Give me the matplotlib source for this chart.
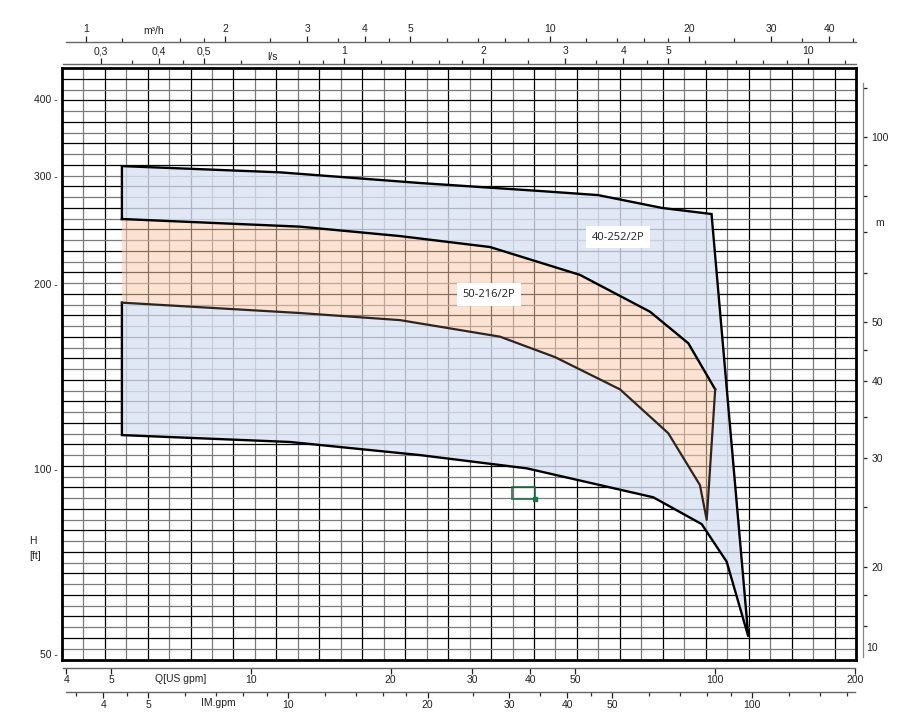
import matplotlib
matplotlib.use("Agg")
import matplotlib.pyplot as plt
from matplotlib.patches import Rectangle, PathPatch
from matplotlib.path import Path
from matplotlib.ticker import NullFormatter

# ---------------- data (Q in US gpm, H in ft) ----------------
blue_top_q = [5.27, 11.55, 23.13, 41.96, 55.96, 76.88, 98.3]
blue_top_h = [311.0, 303.8, 291.9, 283.3, 279.0, 265.9, 259.9]
blue_bot_q = [5.27, 12.14, 23.13, 39.28, 73.6, 93.6, 105.97, 118.0]
blue_bot_h = [113.6, 110.7, 105.4, 100.3, 90.0, 81.4, 70.7, 53.4]

orange_top_q = [5.27, 12.75, 20.95, 32.74, 51.19, 72.42, 87.6, 100.1]
orange_top_h = [255.1, 247.9, 239.3, 229.7, 206.9, 180.3, 160.2, 134.8]
orange_bot_q = [5.27, 12.75, 20.95, 34.41, 45.21, 62.41, 79.3, 92.8, 95.97]
orange_bot_h = [186.5, 179.4, 174.7, 164.2, 152.1, 134.8, 114.4, 94.2, 82.7]

labels = ["40-252/2P", "50-216/2P"]
label_q = [61.7, 32.6]
label_h = [238.2, 192.3]

h_ticks = [50, 100, 200, 300, 400]
q_ticks = [4, 5, 10, 20, 30, 40, 50, 100, 200]
im_ticks = [4, 5, 10, 20, 30, 40, 50, 100]
im_minor = [3.5, 4.5, 6, 7, 8, 9, 12, 14, 16, 18, 25, 35, 45, 60, 70, 80, 90, 120, 140, 160]
m3h_ticks = [1, 2, 3, 4, 5, 10, 20, 30, 40]
m3h_minor = [1.2, 1.6, 1.8, 2.5, 3.5, 4.5, 6, 7, 8, 9, 12, 14, 16, 18, 25, 35, 45]
ls_ticks = [0.3, 0.4, 0.5, 1, 2, 3, 4, 5, 10]
ls_labels = ["0,3", "0,4", "0,5", "1", "2", "3", "4", "5", "10"]
ls_minor = [0.35, 0.45, 0.6, 0.8, 0.9, 1.2, 1.4, 1.6, 1.8, 2.5, 3.5, 4.5, 6, 7, 8, 9, 12]
m_ticks = [20, 30, 40, 50, 100]
m_minor = [16, 18, 25, 35, 45, 60, 70, 80, 90, 120]

# unit conversions (US gpm per unit)
GPM_PER_M3H = 4.40287
GPM_PER_LS = 15.8503
GPM_PER_IMGPM = 1.20095

# ---------------- layout calibration ----------------
W, H = 907, 724
FONT = "Liberation Sans"
FS = 7.5


def q_at(x):
    return 10 ** (1 + (x - 251) / 464.0)


def h_at(y):
    return 200 * 10 ** ((284 - y) / 615.0)


def m_at(y):
    return 100 * 10 ** ((136.7 - y) / 615.0)


fig = plt.figure(figsize=(W / 100, H / 100), dpi=100)


def px_axes(x0, x1, y0, y1):
    return fig.add_axes([x0 / W, 1 - y1 / H, (x1 - x0) / W, (y1 - y0) / H])


# ---------------- main chart ----------------
L, R, T, B = 61.7, 856.0, 68.0, 659.5
ax = px_axes(L, R, T, B)
ax.set_xscale("log")
ax.set_yscale("log")
ax.set_xlim(q_at(L), q_at(R))
ax.set_ylim(h_at(B), h_at(T))

# uniform background grid
ncol, nrow = 37, 55
for k in range(1, ncol):
    c = "#000000" if k % 2 == 0 else "#7a7a7a"
    ax.vlines(k / ncol, 0, 1, transform=ax.transAxes, color=c, lw=0.9, zorder=1)
for j in range(1, nrow):
    c = "#000000" if j % 2 == 0 else "#7a7a7a"
    ax.hlines(j / nrow, 0, 1, transform=ax.transAxes, color=c, lw=0.9, zorder=1)

# envelopes: blue region with the orange region cut out, then orange region
blue_q = blue_top_q + blue_bot_q[::-1]
blue_h = blue_top_h + blue_bot_h[::-1]
orange_q = orange_top_q + orange_bot_q[::-1]
orange_h = orange_top_h + orange_bot_h[::-1]

outer = list(zip(blue_q, blue_h))
inner = list(zip(orange_q, orange_h))[::-1]
verts = outer + [outer[0]] + inner + [inner[0]]
codes = ([Path.MOVETO] + [Path.LINETO] * (len(outer) - 1) + [Path.CLOSEPOLY]
         + [Path.MOVETO] + [Path.LINETO] * (len(inner) - 1) + [Path.CLOSEPOLY])
ax.add_patch(PathPatch(Path(verts, codes), facecolor="#dae3f3", alpha=0.8,
                       edgecolor="none", zorder=2))
ax.fill(orange_q, orange_h, facecolor="#f8cbad", alpha=0.55, edgecolor="none", zorder=2)

# outlines
ax.plot([blue_top_q[0]] + blue_top_q + blue_bot_q[::-1] + [blue_bot_q[0]],
        [orange_top_h[0]] + blue_top_h + blue_bot_h[::-1] + [orange_bot_h[0]],
        color="black", lw=1.7, zorder=3, solid_joinstyle="miter")
ax.plot(orange_top_q, orange_top_h, color="black", lw=1.7, zorder=3)
ax.plot([orange_top_q[-1]] + orange_bot_q[::-1], [orange_top_h[-1]] + orange_bot_h[::-1],
        color="#2e2520", lw=1.6, zorder=3)

for txt, q, h in zip(labels, label_q, label_h):
    ax.text(q, h, txt, ha="center", va="center", fontsize=8, family="Open Sans",
            color="#222222", zorder=5,
            bbox=dict(boxstyle="square,pad=0.5", facecolor="white", edgecolor="none"))

# Excel selection artefact
ax.add_patch(Rectangle((0.5669, 0.2705), 0.0296, 0.0203, transform=ax.transAxes,
                       fill=False, edgecolor="#217346", lw=1.2, zorder=6))
ax.plot([0.5965], [0.2705], marker="s", ms=3, color="#217346", transform=ax.transAxes, zorder=6)

ax.set_xticks([])
ax.set_xticks([], minor=True)
ax.set_yticks(h_ticks, labels=[f"{v} -" for v in h_ticks])
ax.set_yticks([], minor=True)
ax.tick_params(axis="y", length=0, pad=3, labelsize=FS, labelcolor="#222222")
for lab in ax.get_yticklabels():
    lab.set_family(FONT)
for s in ax.spines.values():
    s.set_linewidth(2.0)
    s.set_color("black")
    s.set_zorder(7)


# ---------------- extra scale axes ----------------
def h_scale_axis(y, x0, x1, factor, ticks, tlabels, minor, top):
    a = px_axes(x0, x1, y - 0.05, y + 0.05)
    a.set_xscale("log")
    a.set_xlim(q_at(x0) / factor, q_at(x1) / factor)
    a.patch.set_visible(False)
    a.yaxis.set_visible(False)
    for name, s in a.spines.items():
        s.set_visible(name == ("top" if top else "bottom"))
        s.set_color("#666666")
        s.set_linewidth(1.0)
    if top:
        a.xaxis.tick_top()
    a.set_xticks(ticks, labels=tlabels)
    a.set_xticks(minor, minor=True)
    a.xaxis.set_minor_formatter(NullFormatter())
    a.tick_params(axis="x", which="major", length=4, width=0.9, pad=1.5,
                  labelsize=FS, colors="#222222", direction="out")
    a.tick_params(axis="x", which="minor", length=3, width=0.9, colors="#333333", direction="out")
    for lab in a.get_xticklabels():
        lab.set_family(FONT)
    return a


h_scale_axis(42, 66, 856, GPM_PER_M3H, m3h_ticks, [str(v) for v in m3h_ticks], m3h_minor, True)
h_scale_axis(64, 63, 856, GPM_PER_LS, ls_ticks, ls_labels, ls_minor, True)
h_scale_axis(667.7, 63, 855, 1.0, q_ticks, [str(v) for v in q_ticks], [], False)
h_scale_axis(692, 66, 855, GPM_PER_IMGPM, im_ticks, [str(v) for v in im_ticks], im_minor, False)

# right metre axis
ra = px_axes(863.2, 863.3, 83, 657)
ra.set_yscale("log")
ra.set_ylim(m_at(657), m_at(83))
ra.patch.set_visible(False)
ra.xaxis.set_visible(False)
for name, s in ra.spines.items():
    s.set_visible(name == "right")
    s.set_color("#888888")
    s.set_linewidth(0.9)
ra.yaxis.tick_right()
ra.set_yticks(m_ticks, labels=[str(v) for v in m_ticks])
ra.set_yticks(m_minor, minor=True)
ra.yaxis.set_minor_formatter(NullFormatter())
ra.tick_params(axis="y", which="both", length=3, width=0.9, pad=3, labelsize=FS,
               colors="#222222", direction="out")
for lab in ra.get_yticklabels():
    lab.set_family(FONT)


# axis captions
def ptext(x, y, s, ha="center"):
    fig.text(x / W, 1 - y / H, s, ha=ha, va="center", fontsize=FS, family=FONT, color="#222222")


ptext(154, 31, "m³/h")
ptext(273, 57, "l/s")
ptext(181, 679, "Q[US gpm]")
ptext(218, 703, "IM.gpm")
ptext(875, 223, "m", ha="left")
ptext(866, 648, "10", ha="left")
ptext(33, 541, "H")
ptext(35, 556, "[ft]")

fig.savefig("out.png", dpi=100)
